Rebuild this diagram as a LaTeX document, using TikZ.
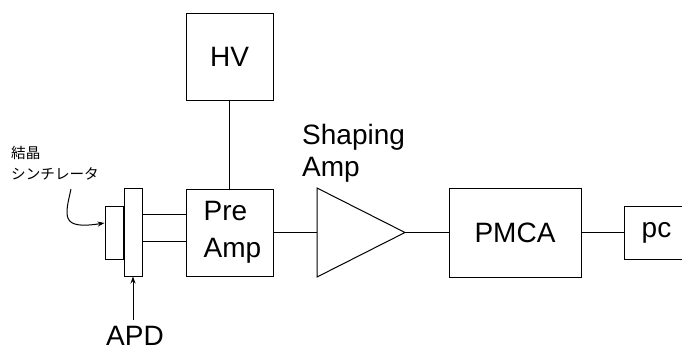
\documentclass[tikz,border=0pt]{standalone}
\usepackage{fontspec}
\setmainfont{Liberation Sans}
\newfontfamily\jpfont{Noto Sans CJK JP}
\usetikzlibrary{arrows.meta,calc}
\begin{document}
\begin{tikzpicture}[x=1pt,y=-1pt,
  blk/.style={draw, line width=1pt, inner sep=0pt, font=\fontsize{28}{37}\selectfont},
  wire/.style={line width=1pt},
  lbl/.style={inner sep=0pt, font=\fontsize{28}{32}\selectfont, align=left},
  jp/.style={inner sep=0pt, font=\jpfont\fontsize{14.6}{21}\selectfont, align=left},
  arr/.style={line width=1pt, -{Stealth[length=7pt,width=5pt]}}]
\useasboundingbox (0,0) rectangle (682,348);
\clip (0,0) rectangle (682,348);
% blocks
\node[blk, minimum width=87pt, minimum height=87pt] (hv) at (229.5,56.5) {HV};
\node[blk, minimum width=87pt, minimum height=87pt, align=left] (pre) at (229.5,232.5) {\hspace*{6pt}Pre\\\hspace*{6pt}Amp};
\node[blk, minimum width=132pt, minimum height=89pt] (pmca) at (515,232.5) {PMCA};
\node[blk, minimum width=65pt, minimum height=53pt] (pc) at (656.5,232.5) {pc};
\node[draw, line width=1pt, inner sep=0pt, minimum width=18pt, minimum height=88pt] (apd) at (133,232) {};
\node[draw, line width=1pt, inner sep=0pt, minimum width=18pt, minimum height=53pt, anchor=east] (scint) at (apd.west |- 0,232.5) {};
% shaping amplifier triangle
\coordinate (tA) at (317,188);
\coordinate (tB) at (317,277);
\coordinate (tC) at (405,232.5);
\coordinate (tIn) at (317,232.5);
\draw[wire] (tA) -- (tB) -- (tC) -- cycle;
% labels
\node[lbl, anchor=north west] (shlbl) at (302,124.5) {Shaping\\Amp};
\node[lbl, anchor=base] (apdlbl) at (135,345.5) {APD};
\node[jp, anchor=north west] (jplbl) at (11,146.5) {結晶\\シンチレータ};
% connectors
\draw[wire] (hv.south) -- (pre.north);
\coordinate (l1) at (142,214.5);
\coordinate (l2) at (142,241);
\draw[wire] (l1) -- (l1 -| pre.west);
\draw[wire] (l2) -- (l2 -| pre.west);
\draw[wire] (pre.east) -- (tIn);
\draw[wire] (tC) -- (pmca.west);
\draw[wire] (pmca.east) -- (pc.west);
\coordinate (apdtail) at (133,320);
\draw[arr] (apdtail) -- (apd.south);
\coordinate (crys) at (71,189);
\draw[arr] (crys) .. controls (65,216) and (60,230) .. ([yshift=9.5pt]scint.west);
\end{tikzpicture}
\end{document}
